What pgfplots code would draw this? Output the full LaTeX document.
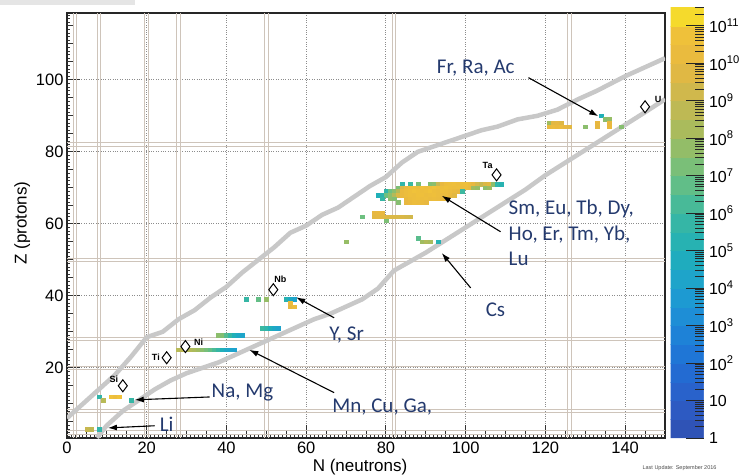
\documentclass[border=0pt]{standalone}
\usepackage{pgfplots}
\pgfplotsset{compat=1.18}
\usepackage{fontspec}
\setmainfont{Liberation Sans}
\newfontfamily\calib{Carlito}
\usetikzlibrary{arrows.meta}
\definecolor{navy}{RGB}{36,58,110}
\definecolor{magic}{RGB}{206,196,186}
\definecolor{drip}{RGB}{200,200,200}
\pgfplotsset{
  colormap={bird}{rgb255(0cm)=(48,80,176); rgb255(1cm)=(44,94,200); rgb255(2cm)=(32,112,213); rgb255(3cm)=(30,136,216); rgb255(4cm)=(29,160,208); rgb255(5cm)=(32,176,184); rgb255(6cm)=(60,184,160); rgb255(7cm)=(110,192,128); rgb255(8cm)=(160,188,96); rgb255(9cm)=(200,184,80); rgb255(10cm)=(232,184,64); rgb255(11cm)=(242,196,56); rgb255(11.5cm)=(248,240,32)}
}
\xdef\minorlist{-1}
\foreach \d in {0,...,11}{%
  \foreach \m in {0.30103,0.47712,0.60206,0.69897,0.77815,0.84510,0.90309,0.95424}{%
    \pgfmathsetmacro\v{\d+\m}%
    \xdef\minorlist{\minorlist,\v}%
  }%
}
\pgfplotstableread{
N Z c
5 3 9.0
6 3 8.8
8 3 5.6
8 12 5.6
9 11 8.6
11 12 10.8
12 12 10.4
13 12 10.8
16 11 5.8
28 25 8.6
29 25 8.7
30 25 8.6
31 25 8.5
32 25 8.3
33 25 8.0
34 25 7.6
35 25 7.2
36 25 6.8
37 25 6.3
38 25 5.8
39 25 5.0
40 25 4.5
41 25 4.3
42 25 4.1
38 29 7.6
39 29 7.4
40 29 6.5
41 29 5.8
42 29 5.0
43 29 4.5
44 29 4.3
49 31 6.0
50 31 5.6
51 31 5.0
52 31 4.5
53 31 4.2
45 39 5.8
48 39 6.8
50 39 7.8
55 39 5.3
56 39 4.6
57 39 4.2
56 38 10.3
56 37 10.0
57 37 10.3
70 55 7.8
88 56 6.6
89 55 8.0
90 55 8.4
91 55 8.2
93 55 5.2
74 62 7.0
80 61 7.3
77 63 10.0
78 63 10.1
79 63 10.0
77 62 9.8
78 62 9.9
79 62 9.8
80 62 9.7
81 62 9.6
82 62 9.6
83 62 9.5
84 62 9.6
85 62 9.4
86 62 9.3
84 71 5.6
86 71 6.0
88 71 7.2
91 71 7.4
92 71 7.6
93 71 9.0
94 71 10.0
95 71 10.4
96 71 10.5
97 71 10.6
98 71 10.4
99 71 10.5
100 71 10.6
101 71 10.3
102 71 10.0
103 71 9.4
104 71 9.0
105 71 9.6
106 71 9.8
107 71 7.6
108 71 5.6
109 71 5.3
83 70 7.3
84 70 9.5
85 70 10.2
86 70 10.5
87 70 10.6
88 70 10.4
89 70 10.7
90 70 10.5
91 70 10.6
92 70 10.8
93 70 10.6
94 70 10.5
95 70 10.7
96 70 10.5
97 70 10.4
98 70 10.5
99 70 10.3
100 70 10.4
101 70 10.2
102 70 8.0
103 70 7.8
105 70 7.6
106 70 7.9
80 69 5.6
81 69 7.0
82 69 7.6
83 69 8.5
84 69 10.2
85 69 10.4
86 69 10.6
87 69 10.8
88 69 10.7
89 69 10.5
90 69 10.6
91 69 10.8
92 69 10.5
93 69 10.4
94 69 10.6
95 69 10.5
96 69 10.3
97 69 10.2
98 69 10.0
99 69 6.0
78 68 5.0
79 68 5.4
80 68 7.0
81 68 7.6
82 68 8.5
83 68 9.6
84 68 10.2
85 68 10.4
86 68 10.6
87 68 10.5
88 68 10.7
89 68 10.6
90 68 10.4
91 68 10.5
92 68 10.6
93 68 10.4
94 68 10.3
95 68 10.4
96 68 10.2
97 68 9.8
79 67 5.8
81 67 7.6
82 67 7.4
85 67 10.2
86 67 10.4
87 67 10.5
88 67 10.6
89 67 10.4
90 67 10.5
91 67 10.3
92 67 10.4
93 67 10.3
94 67 10.2
95 67 10.1
83 66 7.5
85 66 10.0
86 66 10.2
87 66 10.4
88 66 10.3
89 66 10.2
90 66 10.0
121 88 8.0
122 88 9.8
123 88 9.9
124 88 9.7
121 87 10.2
122 87 10.3
123 87 10.2
124 87 10.3
125 87 10.0
126 87 9.8
130 87 7.6
133 88 10.0
133 87 9.9
134 90 5.0
135 89 7.6
136 89 7.8
136 88 10.0
136 87 10.1
139 87 7.5
}\cells
\begin{document}
\begin{tikzpicture}[x=1pt,y=1pt]
\useasboundingbox (0,0) rectangle (744,475);
\fill[black!10] (0,470) rectangle (135,475);
\begin{axis}[
  at={(67pt,37pt)}, anchor=south west,
  scale only axis, width=598pt, height=425pt,
  xmin=0, xmax=150, ymin=0.5, ymax=118.56,
  clip mode=individual,
  axis line style={line width=1.2pt, black!85},
  tick pos=left, tick align=inside,
  xtick={0,20,...,140}, ytick={20,40,...,100},
  minor xtick={0,1,...,150}, minor ytick={1,2,...,118},
  major tick length=13pt, minor tick length=3pt,
  extra x ticks={5,10,15,25,30,35,45,50,55,65,70,75,85,90,95,105,110,115,125,130,135,145},
  extra y ticks={5,10,15,25,30,35,45,50,55,65,70,75,85,90,95,105,110,115},
  extra x tick labels={}, extra y tick labels={},
  extra tick style={major tick length=7pt, grid=none},
  tick style={line width=0.9pt, black!80},
  xmajorgrids, ymajorgrids,
  major grid style={dotted, line width=1pt, black!45},
  /pgf/number format/assume math mode=true,
  tick label style={font=\fontsize{16.5}{18}\selectfont},
  xlabel={N (neutrons)}, ylabel={Z (protons)},
  xlabel style={at={(axis description cs:0.49,-0.068)}, anchor=center, font=\fontsize{17}{19}\selectfont},
  ylabel style={at={(axis description cs:-0.075,0.506)}, anchor=center, font=\fontsize{17}{19}\selectfont},
  colormap name=bird,
  point meta min=0, point meta max=11.5,
  colorbar, colorbar sampled,
  colorbar style={
    at={(parent axis.south east)}, anchor=south west,
    xshift=-3pt, yshift=0pt,
    scale only axis, width=33pt, height=431pt,
    samples=24,
    ytick={0,...,11},
    yticklabels={1,10,10\textsuperscript{2},10\textsuperscript{3},10\textsuperscript{4},10\textsuperscript{5},10\textsuperscript{6},10\textsuperscript{7},10\textsuperscript{8},10\textsuperscript{9},10\textsuperscript{10},10\textsuperscript{11}},
    minor ytick/.expanded={\minorlist},
    ytick pos=right, yticklabel pos=right,
    tick align=inside,
    major tick length=18pt, minor tick length=9pt,
    tick style={black!85, line width=0.9pt},
    axis line style={draw=none},
    yticklabel style={font=\fontsize{16}{18}\selectfont, xshift=2pt},
  },
]
% magic numbers
\foreach \n in {2,8,20,28,50,82,126}{
  \edef\tmp{\noexpand\draw[magic, line width=1pt] (axis cs:\n-0.45,0.5) -- (axis cs:\n-0.45,118.56);
  \noexpand\draw[magic, line width=1pt] (axis cs:\n+0.45,0.5) -- (axis cs:\n+0.45,118.56);}\tmp
}
\foreach \z in {2,8,20,28,50,82}{
  \edef\tmp{\noexpand\draw[magic, line width=1pt] (axis cs:0,\z-0.5) -- (axis cs:150,\z-0.5);
  \noexpand\draw[magic, line width=1pt] (axis cs:0,\z+0.5) -- (axis cs:150,\z+0.5);}\tmp
}
% drip lines
\addplot[drip, line width=4.5pt, line join=round] coordinates {
(0,6)(4,10)(8,14)(12,18)(16,23)(20,28.5)(24,30)(28,33.5)(32,36)(36,39.5)(40,42.5)(44,46.5)(48,50)(52,53.5)(56,57.5)(60,59.5)(64,62.5)(68,64.5)(72,67.5)(76,70.5)(80,73)(84,77)(88,80)(92,81.5)(96,83)(100,84.5)(104,86)(108,87)(113,89)(118,90)(123,91.7)(128,94.5)(133,97)(140,101)(145,103.5)(150,106)};
\addplot[drip, line width=4.5pt, line join=round] coordinates {
(7.5,0.6)(10,4)(14,8)(18,11)(22,14)(26,16.5)(30,18.5)(34,20)(38,21.5)(42,23.5)(46,25.5)(50,27.5)(54,29.5)(58,31.5)(62,33.5)(66,35)(70,37)(74,39)(78,42)(82,47)(86,49.5)(90,52)(95,55.5)(100,59)(105,62.5)(110,66)(115,69.5)(120,73.5)(125,77)(130,80.5)(135,84)(140,87.5)(145,91)(150,94.6)};
% cells
\addplot[scatter, only marks, mark=square*, mark size=2pt,
  mark options={yscale=0.9, line width=0.3pt},
  scatter/use mapped color={draw=mapped color, fill=mapped color},
  point meta=explicit] table[x=N, y=Z, meta=c] {\cells};
% reference nuclei
\addplot[only marks, mark=diamond*, mark size=6pt, mark options={fill=white, draw=black, line width=1pt}]
  coordinates {(14,15)(25,22.8)(29.7,25.9)(51.75,41.7)(107.75,73.6)(145,92.5)};
\begin{scope}[font=\bfseries\fontsize{9}{9}\selectfont]
\node at (axis cs:11.75,16.9) {Si};
\node at (axis cs:22.3,23) {Ti};
\node at (axis cs:33,27.2) {Ni};
\node at (axis cs:53.5,44.5) {Nb};
\node at (axis cs:105.5,76.2) {Ta};
\node at (axis cs:148.3,94.6) {U};
\end{scope}
% arrows
\begin{scope}[line width=1.1pt, -{Latex[length=9pt,width=6pt]}]
\draw (axis cs:115.75,100.6) -- (axis cs:133.25,89.9);
\draw (axis cs:108.75,57.8) -- (axis cs:94,67.8);
\draw (axis cs:101.25,42.2) -- (axis cs:94,51.9);
\draw (axis cs:67,33.9) -- (axis cs:57.5,39.6);
\draw (axis cs:67,13.1) -- (axis cs:45.75,25);
\draw (axis cs:35.75,11.9) -- (axis cs:17,11.1);
\draw (axis cs:22,3.9) -- (axis cs:10.25,3.3);
\end{scope}
\begin{scope}[every node/.style={anchor=west, inner sep=0pt, text=navy, font=\calib\fontsize{21}{25.5}\selectfont}]
\node at (axis cs:92.75,103.3) {Fr, Ra, Ac};
\node[align=left] at (axis cs:110.75,57.5) {Sm, Eu, Tb, Dy,\\Ho, Er, Tm, Yb,\\Lu};
\node at (axis cs:105,36.1) {Cs};
\node at (axis cs:65.75,29.2) {Y, Sr};
\node at (axis cs:66.5,9.2) {Mn, Cu, Ga,};
\node at (axis cs:36.25,13) {Na, Mg};
\node at (axis cs:23.25,4.4) {Li};
\end{scope}
\end{axis}
\node[anchor=east, font=\fontsize{5.5}{6}\selectfont, text=black!70] at (720,7) {Last Update: September 2016};
\end{tikzpicture}
\end{document}
